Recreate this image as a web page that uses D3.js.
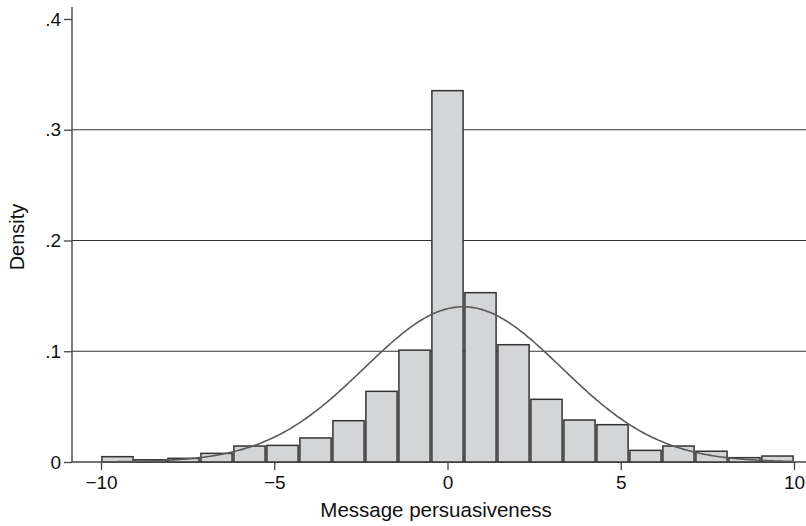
<!DOCTYPE html>
<html lang="en">
<head>
<meta charset="utf-8">
<title>Message persuasiveness histogram</title>
<style>
  body { margin: 0; background: #fff; }
  text { font-family: "Liberation Sans", Arial, Helvetica, sans-serif; fill: #111; }
</style>
</head>
<body>
<div id="chart"></div>
<script src="https://d3js.org/d3.v7.min.js"></script>
<script>
// 21 equal-width bins from -10 to 10, density per bin
const binStart = -10;
const binEnd = 10;
const densities = [
  0.0048, 0.0020, 0.0033, 0.0078, 0.0144, 0.0150, 0.0217,
  0.0373, 0.0638, 0.1010, 0.3353, 0.1529, 0.1059, 0.0566,
  0.0379, 0.0337, 0.0105, 0.0144, 0.0097, 0.0039, 0.0054
];
// fitted normal overlay
const normalMean = 0.45;
const normalSd = 2.846;

const xTicks = [-10, -5, 0, 5, 10];
const yTicks = [0, 0.1, 0.2, 0.3, 0.4];
const xTitle = "Message persuasiveness";
const yTitle = "Density";

const W = 806, H = 526;
const x = d3.scaleLinear().domain([-10, 10]).range([101, 794]);
const y = d3.scaleLinear().domain([0, 0.4]).range([462, 19]);
const axisX = 72;

const binW = (binEnd - binStart) / densities.length;
const bins = densities.map((d, i) => ({ x0: binStart + i * binW, x1: binStart + (i + 1) * binW, d }));

const svg = d3.select("#chart").append("svg")
  .attr("width", W).attr("height", H);

// gridlines
svg.append("g").selectAll("line")
  .data(yTicks.filter(t => t > 0 && t < 0.4))
  .join("line")
    .attr("x1", axisX).attr("x2", W)
    .attr("y1", d => y(d)).attr("y2", d => y(d))
    .attr("stroke", "#333").attr("stroke-width", 1.2);

// baseline
svg.append("line")
  .attr("x1", axisX).attr("x2", W)
  .attr("y1", y(0)).attr("y2", y(0))
  .attr("stroke", "#444").attr("stroke-width", 1.4);

// bars
svg.append("g").selectAll("rect")
  .data(bins)
  .join("rect")
    .attr("x", b => x(b.x0) + 0.9)
    .attr("width", b => x(b.x1) - x(b.x0) - 1.8)
    .attr("y", b => y(b.d))
    .attr("height", b => y(0) - y(b.d))
    .attr("fill", "#d4d5d7")
    .attr("stroke", "#333")
    .attr("stroke-width", 1.5);

// normal curve
const curvePts = d3.range(-10, 10.001, 0.05).map(v => [v,
  Math.exp(-0.5 * ((v - normalMean) / normalSd) ** 2) / (normalSd * Math.sqrt(2 * Math.PI))]);
svg.append("path")
  .datum(curvePts)
  .attr("fill", "none")
  .attr("stroke", "#5a5a5a")
  .attr("stroke-width", 1.6)
  .attr("d", d3.line().x(d => x(d[0])).y(d => y(d[1])));

// y axis
const yAxis = svg.append("g")
  .attr("transform", `translate(${axisX},0)`)
  .call(d3.axisLeft(y).tickValues(yTicks).tickSize(8).tickPadding(3)
    .tickFormat(d => d === 0 ? "0" : d3.format(".1f")(d).replace(/^0/, "")));
yAxis.select(".domain").remove();
yAxis.append("line")
  .attr("x1", 0).attr("x2", 0).attr("y1", 7).attr("y2", y(0))
  .attr("stroke", "#444").attr("stroke-width", 1.4);
yAxis.selectAll(".tick line").attr("stroke", "#444").attr("stroke-width", 1.3);
yAxis.selectAll("text").attr("font-size", 19).attr("fill", "#111");

// x axis
const xAxis = svg.append("g")
  .attr("transform", `translate(0,${y(0)})`)
  .call(d3.axisBottom(x).tickValues(xTicks).tickSize(8).tickPadding(6));
xAxis.select(".domain").remove();
xAxis.selectAll(".tick line").attr("stroke", "#444").attr("stroke-width", 1.3);
xAxis.selectAll("text").attr("font-size", 19).attr("fill", "#111");

// titles
svg.append("text")
  .attr("x", 436).attr("y", 517)
  .attr("text-anchor", "middle")
  .attr("font-size", 20.5)
  .text(xTitle);

svg.append("text")
  .attr("transform", "translate(24,237) rotate(-90)")
  .attr("text-anchor", "middle")
  .attr("font-size", 20)
  .text(yTitle);
</script>
</body>
</html>
